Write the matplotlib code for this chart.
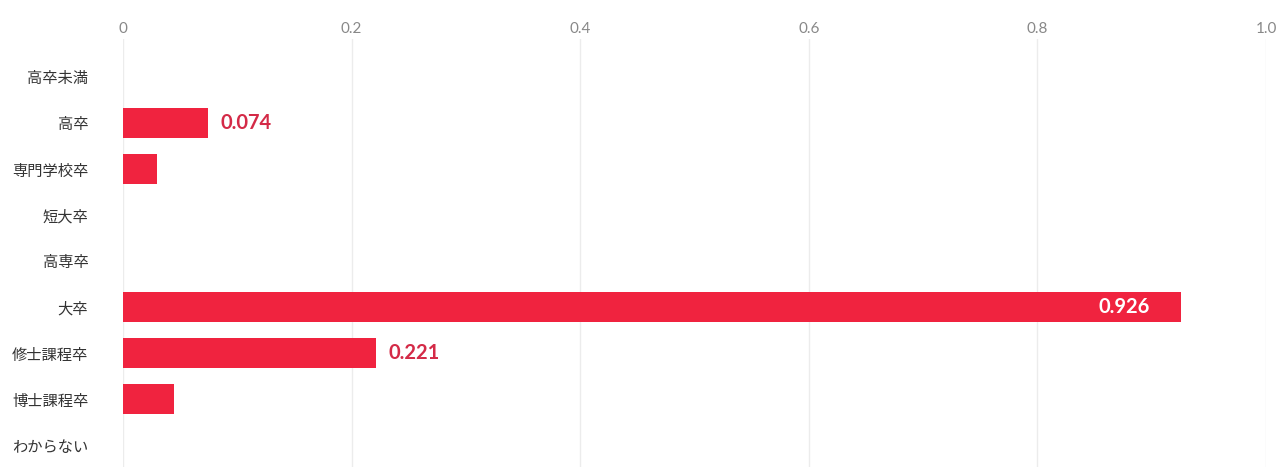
import matplotlib
matplotlib.use('Agg')
import matplotlib.pyplot as plt
import numpy as np

categories = ['高卒未満', '高卒', '専門学校卒', '短大卒', '高専卒', '大卒', '修士課程卒', '博士課程卒', 'わからない']
values = [0.0, 0.074, 0.03, 0.0, 0.0, 0.926, 0.221, 0.045, 0.0]
labels = [None, '0.074', None, None, None, '0.926', '0.221', None, None]
xticks = [0, 0.2, 0.4, 0.6, 0.8, 1.0]
xticklabels = ['0', '0.2', '0.4', '0.6', '0.8', '1.0']

bar_color = '#f0233f'
label_color = '#d42a47'

fig = plt.figure(figsize=(12.79, 4.67), dpi=100)
ax = fig.add_axes([123 / 1279, 0, (1266 - 123) / 1279, 1 - 39 / 467])

y = np.arange(len(categories))
ax.barh(y, values, height=0.65, color=bar_color, zorder=2)

for yi, v, lab in zip(y, values, labels):
    if lab is None:
        continue
    if v > 0.5:
        # long bar: value goes inside, in white
        ax.text(v - 0.028, yi, lab, ha='right', va='center', color='white',
                fontsize=14.5, fontweight='bold', family=['Lato', 'DejaVu Sans'], zorder=3)
    else:
        ax.text(v + 0.0115, yi, lab, ha='left', va='center', color=label_color,
                fontsize=14.5, fontweight='bold', family=['Lato', 'DejaVu Sans'], zorder=3)

ax.set_xlim(0, 1.0)
ax.set_ylim(8 + 22 / 46, -38 / 46)
ax.set_yticks(y)
ax.set_yticklabels(categories, family=['Noto Sans CJK JP', 'DejaVu Sans'], fontsize=11, color='#333333')
ax.set_xticks(xticks)
ax.set_xticklabels(xticklabels, family=['Lato', 'DejaVu Sans'], fontsize=11, color='#888888')
ax.xaxis.tick_top()
ax.tick_params(axis='both', length=0)
ax.tick_params(axis='x', pad=2)
ax.tick_params(axis='y', pad=25)
ax.grid(axis='x', color='#ececec', linewidth=1, zorder=0)
for s in ax.spines.values():
    s.set_visible(False)

fig.savefig('out.png', dpi=100)
